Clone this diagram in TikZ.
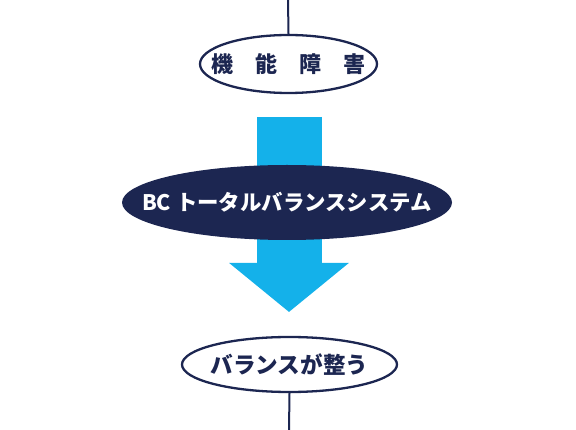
\documentclass[tikz,border=0pt]{standalone}
\usepackage{fontspec}
\newfontfamily\jpfont{Noto Sans CJK JP}
\usetikzlibrary{shapes.geometric, positioning, arrows.meta}
\definecolor{navy}{HTML}{1C2651}
\definecolor{sky}{HTML}{14B1EA}
\tikzset{
  outline/.style={ellipse, draw=navy, line width=2.3pt, fill=white, inner sep=0pt},
  solid/.style={ellipse, fill=navy, inner sep=0pt},
  darktext/.style={text=navy, inner sep=0pt, font=\jpfont\bfseries\fontsize{22}{26}\selectfont},
  lighttext/.style={text=white, inner sep=0pt, font=\jpfont\bfseries\fontsize{21.4}{25}\selectfont},
  wire/.style={navy, line width=2pt},
  bigarrow/.style={sky, line width=65pt, -{Triangle[length=49pt, width=117pt]}}
}

\begin{document}
\begin{tikzpicture}[x=1pt, y=-1pt]
        \useasboundingbox (0,0) rectangle (576,430);

        % Flecha azul (detras del ovalo)
        \coordinate (arrtop) at (289,117);
        \coordinate (arrtip) at (289,312);
        \draw[bigarrow] (arrtop) -- (arrtip);

        % Ovalos
        \node[outline, minimum width=177, minimum height=58,
              label={[darktext]center:機　能　障　害}] (shogai) at (288.5,64) {};
        \node[solid, minimum width=330, minimum height=75,
              label={[lighttext]center:BC トータルバランスシステム}] (system) at (287,202.5) {};
        \node[outline, minimum width=215, minimum height=55,
              label={[darktext, font=\jpfont\bfseries\fontsize{22.6}{26}\selectfont]center:バランスが整う}] (balance) at (289.5,364.5) {};

        % Lineas
        \coordinate (topend) at (288,0);
        \coordinate (botend) at (289,430);
        \draw[wire] (topend) -- (shogai.north);
        \draw[wire] (balance.south) -- (botend);

    \end{tikzpicture}
\end{document}
